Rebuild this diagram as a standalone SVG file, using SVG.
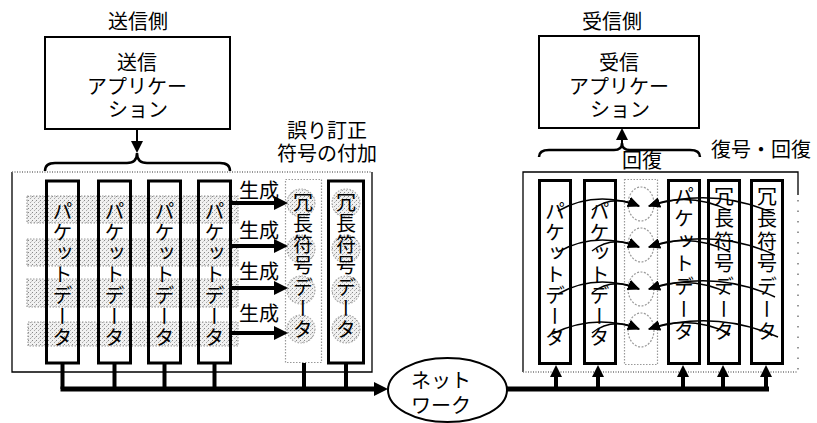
<svg xmlns="http://www.w3.org/2000/svg" width="817" height="423" viewBox="0 0 817 423">
<defs>
<pattern id="stip" width="4" height="4" patternUnits="userSpaceOnUse">
<rect width="4" height="4" fill="#f1f1f1"/>
<rect x="0" y="0" width="1" height="1" fill="#888"/>
<rect x="2" y="2" width="1" height="1" fill="#a8a8a8"/>
<rect x="3" y="1" width="1" height="1" fill="#cccccc"/>
</pattern>
<marker id="big" viewBox="0 0 14 14" refX="0" refY="7" markerWidth="14" markerHeight="14" markerUnits="userSpaceOnUse" orient="auto">
<path d="M0,0 L14,7 L0,14 z" fill="#000"/>
</marker>
<marker id="mid" viewBox="0 0 12 12" refX="0" refY="6" markerWidth="12" markerHeight="12" markerUnits="userSpaceOnUse" orient="auto">
<path d="M0,0 L12,6 L0,12 z" fill="#000"/>
</marker>
<marker id="small" viewBox="0 0 12 10" refX="11" refY="5" markerWidth="12" markerHeight="10" markerUnits="userSpaceOnUse" orient="auto">
<path d="M0,0 L12,5 L0,10 z" fill="#000"/>
</marker>
</defs>
<style>
text { font-family: "Noto Sans CJK JP", "Noto Sans", sans-serif; font-size: 20px; fill: #000; }
.c { text-anchor: middle; }
.v { writing-mode: vertical-rl; letter-spacing: 1px; }
.v2 { writing-mode: vertical-rl; letter-spacing: 2.6px; }
.v3 { writing-mode: vertical-rl; letter-spacing: 1.3px; }
.col { fill: none; stroke: #000; stroke-width: 3; }
.dcol { fill: none; stroke: #999; stroke-width: 1.2; stroke-dasharray: 1.5 1.5; }
.band { fill: url(#stip); stroke: #999; stroke-width: 1.2; stroke-dasharray: 1.5 1.5; }
.blob { fill: url(#stip); stroke: #aaa; stroke-width: 1.2; stroke-dasharray: 1.5 1.5; }
.ghost { fill: none; stroke: #999; stroke-width: 1.2; stroke-dasharray: 2 1.5; }
.box { fill: #fff; stroke: #000; stroke-width: 2; }
.frame { fill: none; stroke: #000; stroke-width: 1.3; }
.dotline { fill: none; stroke: #777; stroke-width: 1.5; stroke-dasharray: 1 1.5; }
.brace { fill: none; stroke: #000; stroke-width: 2.5; }
.bus { fill: none; stroke: #000; stroke-width: 5; }
.stub { stroke: #000; stroke-width: 4; }
.gen { stroke: #000; stroke-width: 4; marker-end: url(#big); }
.up { stroke: #000; stroke-width: 4; marker-end: url(#mid); }
.app { stroke: #000; stroke-width: 2; marker-end: url(#mid); }
.curve { fill: none; stroke: #000; stroke-width: 1.5; marker-end: url(#small); }
</style>

<!-- Sender side -->
<g id="sender-title"><text class="c" x="138" y="29">送信側</text></g>
<g id="sender-app">
<rect class="box" x="45" y="37" width="185" height="92"/>
<text class="c" x="137" y="70">送信</text>
<text class="c" x="137" y="94">アプリケー</text>
<text class="c" x="138" y="117">ション</text>
</g>
<g id="sender-group">
<path class="frame" d="M12,172 L12,372 L372,372 L372,172"/>
<line class="dotline" x1="12" y1="172" x2="372" y2="172"/>
</g>
<g id="sender-bands">
<rect class="band" x="27" y="196" width="211" height="27"/>
<rect class="band" x="27" y="239" width="211" height="27"/>
<rect class="band" x="27" y="279" width="211" height="28"/>
<rect class="band" x="28" y="322" width="210" height="24"/>
</g>
<g id="packet-s1"><rect class="col" x="46.5" y="181" width="32" height="182"/><text class="v" x="62.5" y="201">パケットデータ</text></g>
<g id="packet-s2"><rect class="col" x="98.5" y="181" width="32" height="182"/><text class="v" x="114.5" y="201">パケットデータ</text></g>
<g id="packet-s3"><rect class="col" x="148.5" y="181" width="32" height="182"/><text class="v" x="164.5" y="201">パケットデータ</text></g>
<g id="packet-s4"><rect class="col" x="198.5" y="181" width="32" height="182"/><text class="v" x="214.5" y="201">パケットデータ</text></g>
<g id="fec-label">
<text class="c" x="327" y="138">誤り訂正</text>
<text class="c" x="327" y="161">符号の付加</text>
</g>
<g id="redundant-gen">
<rect class="dcol" x="285.5" y="179.5" width="36" height="183"/>
<ellipse class="blob" cx="301" cy="203" rx="14" ry="14"/>
<ellipse class="blob" cx="301" cy="249" rx="14" ry="14"/>
<ellipse class="blob" cx="301" cy="290" rx="14" ry="14"/>
<ellipse class="blob" cx="301" cy="329" rx="14" ry="14"/>
<text class="v3" x="303" y="192">冗長符号データ</text>
</g>
<g id="redundant-s">
<rect class="col" x="328.5" y="181" width="35" height="182"/>
<ellipse class="blob" cx="346" cy="203" rx="14" ry="14"/>
<ellipse class="blob" cx="346" cy="249" rx="14" ry="14"/>
<ellipse class="blob" cx="346" cy="290" rx="14" ry="14"/>
<ellipse class="blob" cx="346" cy="329" rx="14" ry="14"/>
<text class="v3" x="346" y="192">冗長符号データ</text>
</g>
<g id="gen-labels">
<text x="239" y="198">生成</text>
<text x="239" y="238">生成</text>
<text x="239" y="279">生成</text>
<text x="239" y="321">生成</text>
</g>

<!-- Network -->
<g id="network">
<ellipse class="box" cx="447.5" cy="390" rx="59.5" ry="32"/>
<text class="c" x="441" y="388">ネット</text>
<text class="c" x="441" y="413">ワーク</text>
</g>

<!-- Receiver side -->
<g id="receiver-title"><text class="c" x="612" y="29">受信側</text></g>
<g id="receiver-app">
<rect class="box" x="539" y="36" width="160" height="92"/>
<text class="c" x="619" y="70">受信</text>
<text class="c" x="619" y="94">アプリケー</text>
<text class="c" x="620" y="117">ション</text>
</g>
<g id="decode-label"><text x="711" y="157">復号・回復</text></g>
<g id="receiver-group">
<path class="frame" d="M523,372 L523,172 L798,172 L798,195"/>
<line class="dotline" x1="523" y1="372" x2="798" y2="372"/>
<line class="dotline" x1="798" y1="200" x2="798" y2="372" style="stroke-dasharray:1.5 9"/>
</g>
<g id="packet-r1"><rect class="col" x="539.5" y="180.5" width="31" height="183"/><text class="v" x="555" y="201">パケットデータ</text></g>
<g id="packet-r2"><rect class="col" x="584.5" y="180.5" width="31" height="183"/><text class="v" x="599.5" y="201">パケットデータ</text></g>
<g id="recover-col">
<rect class="dcol" x="624.5" y="179.5" width="33" height="185"/>
<ellipse class="ghost" cx="641" cy="204" rx="13" ry="17"/>
<ellipse class="ghost" cx="641" cy="245" rx="13" ry="17"/>
<ellipse class="ghost" cx="641" cy="289" rx="13" ry="17"/>
<ellipse class="ghost" cx="641" cy="330" rx="13" ry="17"/>
</g>
<g id="recover-label"><text x="622" y="168">回復</text></g>
<g id="packet-r4"><rect class="col" x="668.5" y="180.5" width="31" height="183"/><text class="v2" x="684" y="186">パケットデータ</text></g>
<g id="redundant-r1"><rect class="col" x="708.5" y="180.5" width="31" height="183"/><text class="v2" x="724" y="186">冗長符号データ</text></g>
<g id="redundant-r2"><rect class="col" x="751.5" y="180.5" width="31" height="183"/><text class="v2" x="767" y="186">冗長符号データ</text></g>

<!-- Connectors -->
<g id="connectors">
<line class="app" x1="137" y1="129" x2="137" y2="141"/>
<path class="brace" d="M45,171 Q45,163 55,163 L127,163 Q137,163 137,153 Q137,163 147,163 L220,163 Q230,163 230,171"/>
<line class="gen" x1="232" y1="203" x2="274" y2="203"/>
<line class="gen" x1="232" y1="246" x2="274" y2="246"/>
<line class="gen" x1="232" y1="288" x2="274" y2="288"/>
<line class="gen" x1="232" y1="333" x2="274" y2="333"/>
<line class="stub" x1="62.5" y1="364" x2="62.5" y2="389"/>
<line class="stub" x1="114.5" y1="364" x2="114.5" y2="389"/>
<line class="stub" x1="164.5" y1="364" x2="164.5" y2="389"/>
<line class="stub" x1="214.5" y1="364" x2="214.5" y2="389"/>
<line class="stub" x1="304" y1="363" x2="304" y2="389"/>
<line class="stub" x1="346" y1="364" x2="346" y2="389"/>
<path class="bus" d="M60.5,389 L374,389" marker-end="url(#big)"/>
<path class="bus" d="M507,389 L769,389"/>
<line class="up" x1="556" y1="389" x2="556" y2="377"/>
<line class="up" x1="598" y1="389" x2="598" y2="377"/>
<line class="up" x1="683" y1="389" x2="683" y2="377"/>
<line class="up" x1="723" y1="389" x2="723" y2="377"/>
<line class="up" x1="766" y1="389" x2="766" y2="377"/>
<path class="brace" d="M539,157 Q539,150 549,150 L614,150 Q622,150 622,143 Q622,150 630,150 L690,150 Q700,150 700,157"/>
<line class="app" x1="622" y1="143" x2="622" y2="140"/>
<path class="curve" d="M558,211 Q595,190 639,206"/>
<path class="curve" d="M592,210 Q612,194 639,206"/>
<path class="curve" d="M775,214 Q715,186 649,206"/>
<path class="curve" d="M730,211 Q690,191 649,206"/>
<path class="curve" d="M558,252 Q595,231 639,247"/>
<path class="curve" d="M592,251 Q612,235 639,247"/>
<path class="curve" d="M775,255 Q715,227 649,247"/>
<path class="curve" d="M730,252 Q690,232 649,247"/>
<path class="curve" d="M558,294 Q595,273 639,289"/>
<path class="curve" d="M592,293 Q612,277 639,289"/>
<path class="curve" d="M775,297 Q715,269 649,289"/>
<path class="curve" d="M730,294 Q690,274 649,289"/>
<path class="curve" d="M552,334 Q595,313 639,329"/>
<path class="curve" d="M592,333 Q612,317 639,329"/>
<path class="curve" d="M778,337 Q715,309 649,329"/>
<path class="curve" d="M730,334 Q690,314 649,329"/>
</g>
</svg>
